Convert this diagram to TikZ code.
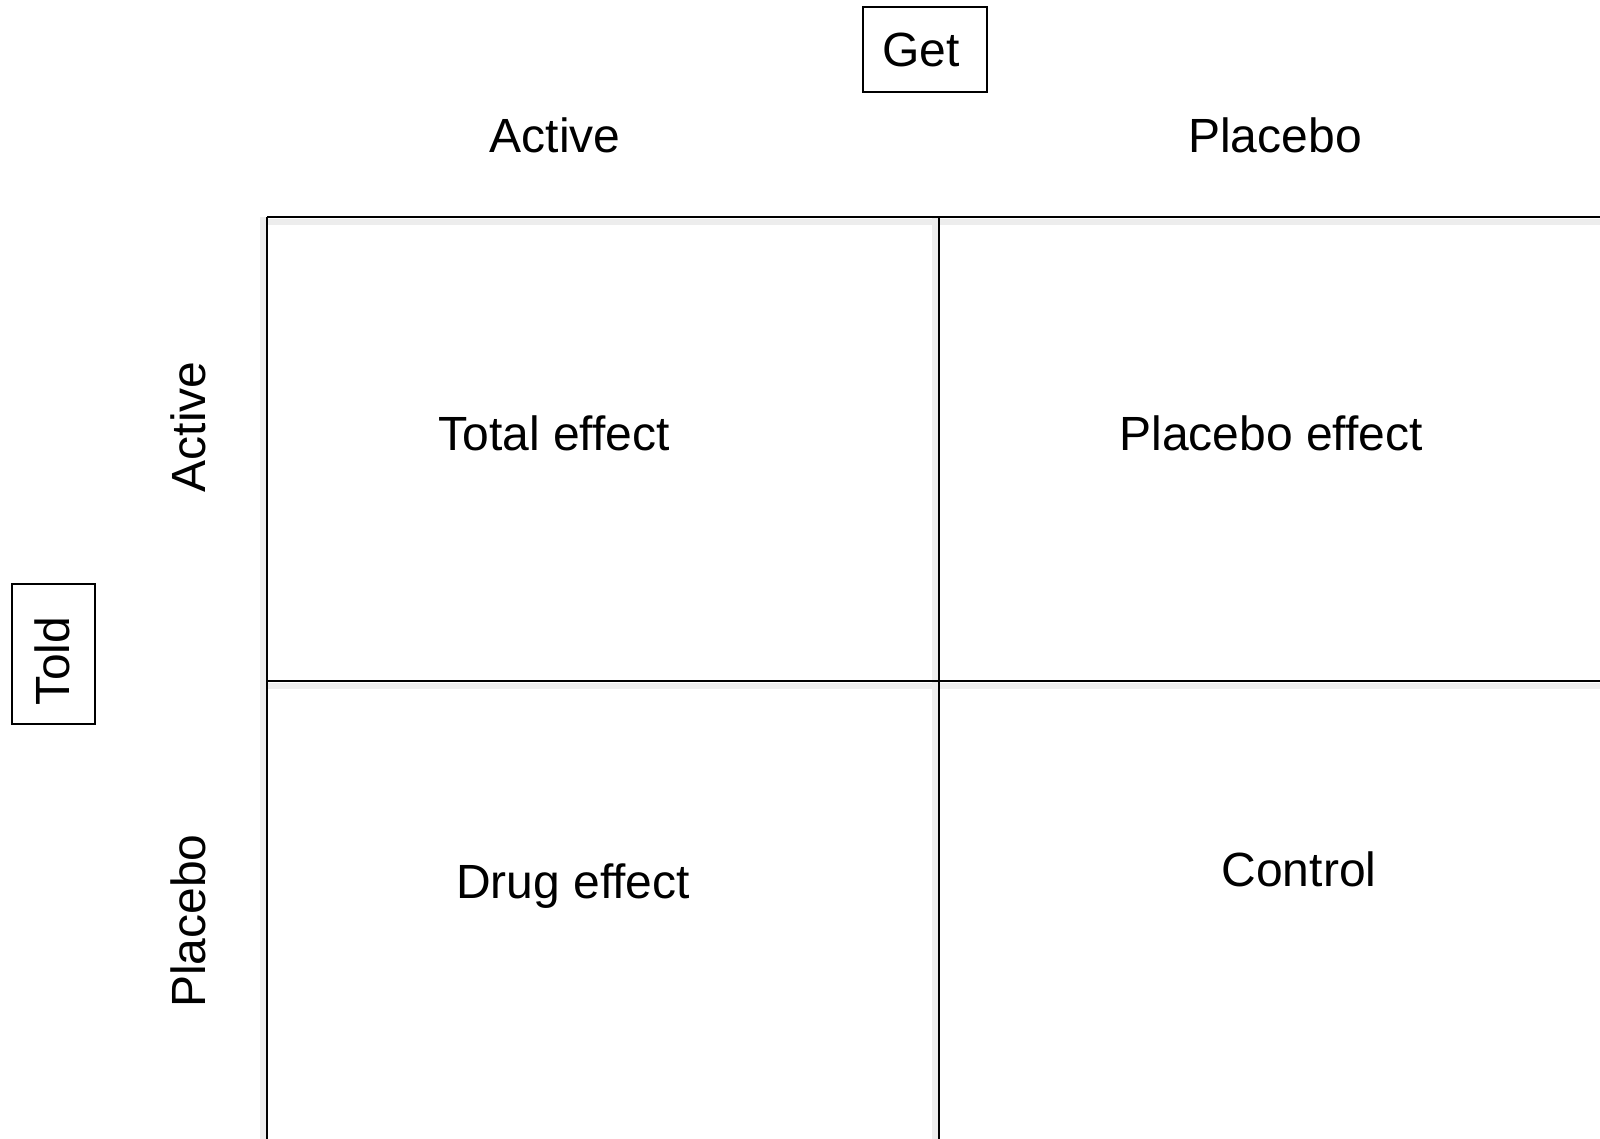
\documentclass[tikz,border=0pt]{standalone}
\usepackage{fontspec}
\setmainfont{Liberation Sans}
\usetikzlibrary{calc}
\tikzset{grade/.style={color=#1,line width=1.2pt},grade/.default=black}
\tikzset{sombra/.style={color=#1,line width=3pt},sombra/.default=black!7}

\begin{document}
\begin{tikzpicture}[x=0.5pt,y=-0.5pt,
                    rotulo/.style={font=\fontsize{24}{29}\selectfont,inner sep=0pt},
                    caixa/.style={draw=black,line width=0.8pt,inner sep=0pt}]

		% Área da figura
		\useasboundingbox (0,0) rectangle (1600,1139);

		% Cantos da grade
		\coordinate (grade nw) at (267,217);
		\coordinate (grade se) at (1600,1139);
		\coordinate (meio)     at (939,681);

		% Sombras das linhas
		\draw [sombra] ($(grade nw)+(0,5)$) -- ($(grade nw -| grade se)+(0,5)$);
		\draw [sombra] ($(meio -| grade nw)+(0,5)$) -- ($(meio -| grade se)+(0,5)$);
		\draw [sombra] ($(grade nw)+(-4,0)$) -- ($(grade nw |- grade se)+(-4,0)$);
		\draw [sombra] ($(meio |- grade nw)+(-4,0)$) -- ($(meio |- grade se)+(-4,0)$);

		% As linhas da grade
		\draw [grade] (grade nw) -- (grade nw -| grade se);
		\draw [grade] (meio -| grade nw) -- (meio -| grade se);
		\draw [grade] (grade nw) -- (grade nw |- grade se);
		\draw [grade] (meio |- grade nw) -- (meio |- grade se);

		% Caixa "Get"
		\node [caixa, minimum width=62pt, minimum height=42.5pt] (get) at (925,49.5) {};
		\node [rotulo] (get txt) at ($(get)+(-4,0)$) {Get};

		% Caixa "Told"
		\node [caixa, rotate=90, minimum width=70pt, minimum height=41.5pt] (told) at (53.5,654) {};
		\node [rotulo, rotate=90] (told txt) at ($(told)+(-1,7)$) {Told};

		% Rótulos das colunas
		\node [rotulo] (col ativo)   at (555,135)  {Active};
		\node [rotulo] (col placebo) at (1275,135) {Placebo};

		% Rótulos das linhas
		\node [rotulo, rotate=90] (lin ativo)   at (188,427) {Active};
		\node [rotulo, rotate=90] (lin placebo) at (188,921) {Placebo};

		% Conteúdo das células
		\node [rotulo] (total)    at (554,433)  {Total effect};
		\node [rotulo] (efeito)   at (1271,433) {Placebo effect};
		\node [rotulo] (droga)    at (573,886)  {Drug effect};
		\node [rotulo] (controle) at (1299,869) {Control};

	\end{tikzpicture}
\end{document}
